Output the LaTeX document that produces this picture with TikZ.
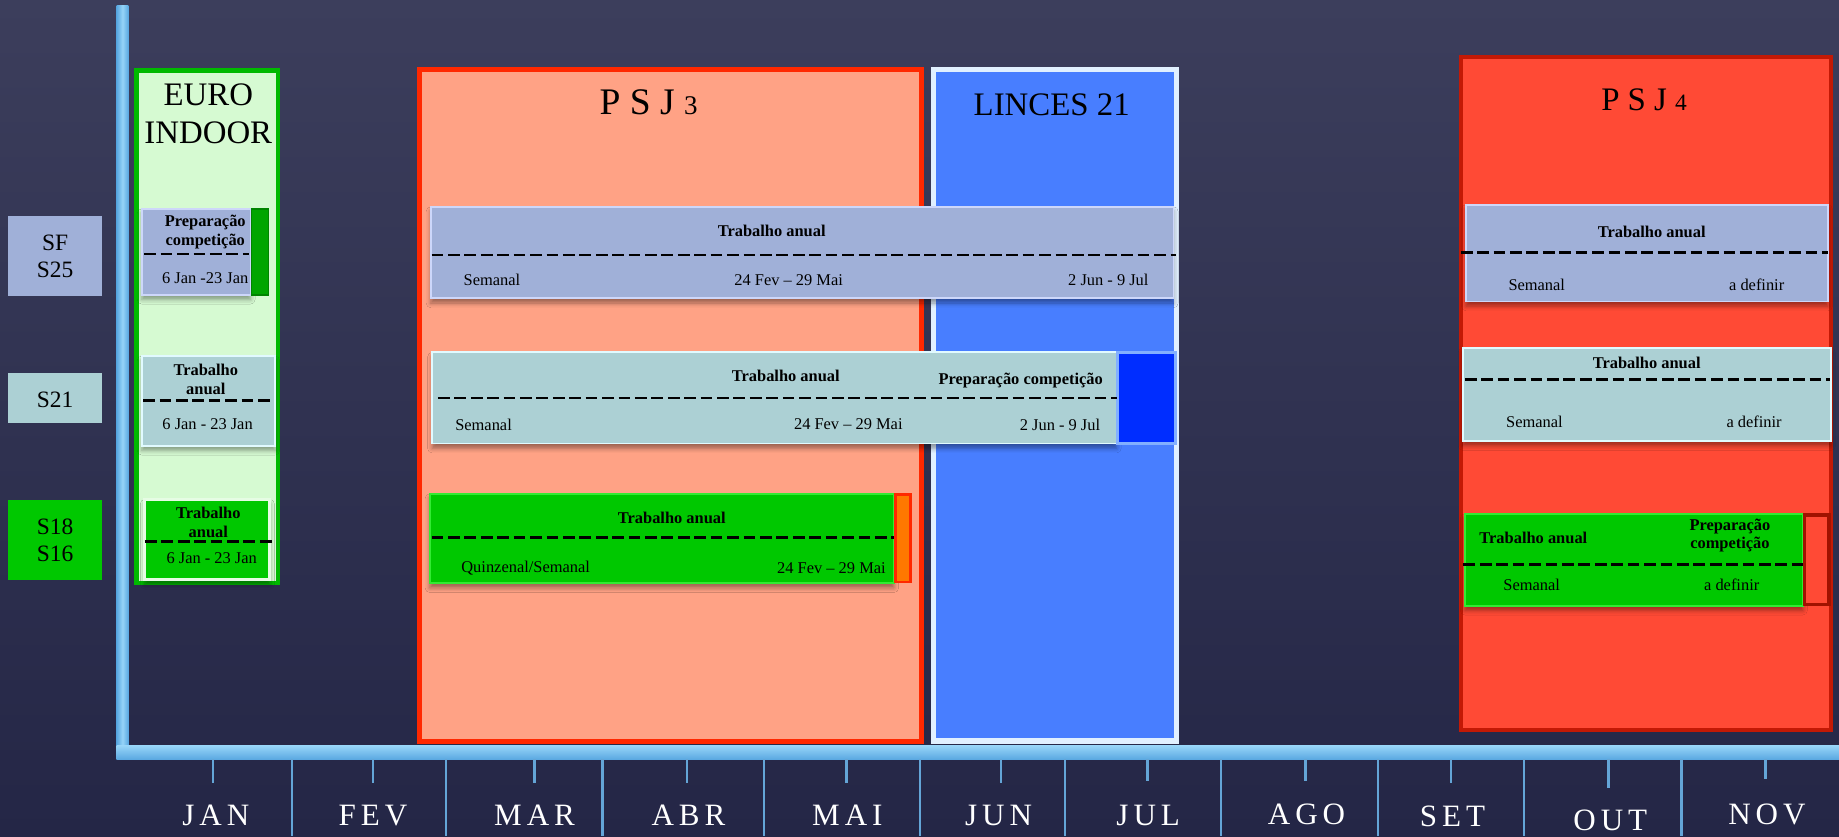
\documentclass[tikz,border=0pt]{standalone}
\usepackage{fontspec}
\setmainfont{Liberation Serif}
\newfontfamily\monthfont[LetterSpace=16]{Liberation Serif}
\usetikzlibrary{shadows.blur}
\definecolor{bgtop}{RGB}{60,62,92}
\definecolor{bgbot}{RGB}{36,38,70}
\definecolor{axlight}{RGB}{150,212,248}
\definecolor{axdark}{RGB}{90,168,225}
\definecolor{tickcol}{RGB}{100,165,215}
\definecolor{sfcol}{RGB}{160,176,216}
\definecolor{sfedge}{RGB}{205,215,250}
\definecolor{sxcol}{RGB}{172,208,212}
\definecolor{sxedge}{RGB}{225,250,255}
\definecolor{sgcol}{RGB}{0,200,0}
\definecolor{sgedge}{RGB}{50,235,50}
\definecolor{euroedge}{RGB}{0,185,0}
\definecolor{eurofill}{RGB}{214,250,210}
\definecolor{psjfill}{RGB}{255,162,133}
\definecolor{psjedge}{RGB}{255,40,0}
\definecolor{lincfill}{RGB}{72,126,255}
\definecolor{lincedge}{RGB}{225,240,255}
\definecolor{prepblue}{RGB}{0,45,255}
\definecolor{prepedge}{RGB}{130,175,255}
\definecolor{prepor}{RGB}{255,120,0}
\definecolor{prepgreen}{RGB}{0,165,0}
\definecolor{psjfour}{RGB}{255,74,53}
\definecolor{psjfouredge}{RGB}{195,25,5}
\definecolor{prepred}{RGB}{160,18,0}
\tikzset{
  taskbox/.style={line width=1.5pt, blur shadow={shadow xshift=0pt, shadow yshift=-4pt, shadow blur radius=4pt, shadow opacity=40}},
  sfbar/.style={taskbox, fill=sfcol, draw=sfedge},
  sxbar/.style={taskbox, fill=sxcol, draw=sxedge},
  sgbar/.style={taskbox, fill=sgcol, draw=sgedge},
  sepline/.style={line width=2pt, dash pattern=on 10pt off 4pt},
  smalltxt/.style={inner sep=0pt, align=center, font=\fontsize{14}{16}\selectfont},
  headtxt/.style={smalltxt, font=\fontsize{14}{16}\selectfont\bfseries},
  rowtxt/.style={inner sep=0pt, align=center, font=\fontsize{20}{23}\selectfont},
  titletxt/.style={inner sep=0pt, align=center, font=\fontsize{28}{32}\selectfont},
  monthtxt/.style={inner sep=0pt, text=white, font=\monthfont\fontsize{26.5}{26.5}\selectfont},
  tickline/.style={tickcol, line width=2pt}
}
\begin{document}
\begin{tikzpicture}[x=1pt, y=-1pt]
    \useasboundingbox (0,0) rectangle (1568,713);
    \shade [top color=bgtop, bottom color=bgbot] (0,0) rectangle (1568,713);
    \fill [sfcol] (7,184) rectangle (87,252);
    \fill [sxcol] (7,318) rectangle (87,361);
    \fill [sgcol] (7,426) rectangle (87,494.5);
    \node [rowtxt] (rowsf) at (47,218.5) {SF\\S25};
    \node [rowtxt] (rowsx) at (47,341) {S21};
    \node [rowtxt] (rowsg) at (47,460.5) {S18\\S16};
    \draw [euroedge, line width=4pt, fill=eurofill] (116.5,60) rectangle (237,497);
    \draw [psjedge, line width=4pt, fill=psjfill] (357.5,59) rectangle (785.5,632.3);
    \draw [lincedge, line width=4.5pt, fill=lincfill] (795.8,59.3) rectangle (1003,631.7);
    \draw [psjfouredge, line width=3.5pt, fill=psjfour] (1246,48.3) rectangle (1561.3,622.3);
    \node [titletxt] (euro) at (177.6,97) {EURO\\INDOOR};
    \node [titletxt, font=\fontsize{32}{32}\selectfont] (psj3) at (553,87.5) {P S J {\fontsize{23}{23}\selectfont 3}};
    \node [titletxt] (linces) at (896.7,89) {LINCES 21};
    \node [titletxt] (psj4) at (1401.8,84.7) {P S J {\fontsize{20}{20}\selectfont 4}};
    % euro indoor
    \draw [sfbar] (121,178) rectangle (213.5,251.3);
    \draw [prepgreen!80!black, fill=prepgreen, line width=1.5pt] (214.5,178) rectangle (229,251.3);
    \draw [sepline] (123,216.3) -- (212,216.3);
    \node [headtxt] (eusfh) at (175,198) {Preparação\\competição};
    \node [smalltxt] (eusfd) at (175,237.5) {6 Jan -23 Jan};
    \draw [sxbar] (121,303.5) rectangle (234.5,380);
    \draw [sepline] (122,341.6) -- (233,341.6);
    \node [headtxt] (eusxh) at (175.5,323.7) {Trabalho\\anual};
    \node [smalltxt] (eusxd) at (177,362) {6 Jan - 23 Jan};
    \draw [sgbar, draw=eurofill!60!white, line width=2.5pt] (123.6,425.8) rectangle (230,494.4);
    \draw [sepline] (123.6,461.7) -- (234.5,461.7);
    \node [headtxt] (eusgh) at (177.6,445.3) {Trabalho\\anual};
    \node [smalltxt] (eusgd) at (180.5,475.8) {6 Jan - 23 Jan};
    % psj 3 and linces
    \draw [sfbar] (367.4,176.3) rectangle (1000.5,254.4);
    \draw [sepline] (368,217.6) -- (1003,217.6);
    \node [headtxt] (p3sfh) at (658,196.6) {Trabalho anual};
    \node [smalltxt] (p3sfa) at (419.5,238.5) {Semanal};
    \node [smalltxt] (p3sfb) at (672.4,238.5) {24 Fev – 29 Mai};
    \node [smalltxt] (p3sfc) at (945,238.5) {2 Jun - 9 Jul};
    \draw [sxbar] (368.6,300.4) rectangle (952,378.2);
    \draw [prepedge, fill=prepblue, line width=2.5pt] (953,300.4) rectangle (1002,378.2);
    \draw [sepline] (373.4,339.6) -- (952,339.6);
    \node [headtxt] (p3sxh) at (670,320.8) {Trabalho anual};
    \node [headtxt] (p3sxp) at (870.3,324.7) {Preparação competição};
    \node [smalltxt] (p3sxa) at (412.3,362) {Semanal};
    \node [smalltxt] (p3sxb) at (723.3,362) {24 Fev – 29 Mai};
    \node [smalltxt] (p3sxc) at (903.8,362) {2 Jun - 9 Jul};
    \draw [sgbar] (366.5,421) rectangle (762.2,497.2);
    \draw [psjedge, fill=prepor, line width=2.5pt] (763.2,422) rectangle (776.7,496.2);
    \draw [sepline] (368,458.3) -- (762,458.3);
    \node [headtxt] (p3sgh) at (572.8,441.3) {Trabalho anual};
    \node [smalltxt] (p3sga) at (448.2,484.7) {Quinzenal/Semanal};
    \node [smalltxt] (p3sgb) at (708.9,484.7) {24 Fev – 29 Mai};
    % psj 4
    \draw [sfbar] (1250,174.5) rectangle (1558.4,257);
    \draw [sepline] (1245.5,215.2) -- (1558.7,215.2);
    \node [headtxt] (p4sfh) at (1408.3,197.3) {Trabalho anual};
    \node [smalltxt] (p4sfa) at (1310.3,243) {Semanal};
    \node [smalltxt] (p4sfb) at (1497.8,243) {a definir};
    \draw [sxbar] (1247.2,296.7) rectangle (1561,376);
    \draw [sepline] (1249,323.6) -- (1560,323.6);
    \node [headtxt] (p4sxh) at (1404,309) {Trabalho anual};
    \node [smalltxt] (p4sxa) at (1308.3,359.4) {Semanal};
    \node [smalltxt] (p4sxb) at (1495.6,359.4) {a definir};
    \draw [sgbar] (1249.1,438) rectangle (1537,516.4);
    \draw [prepred, fill=psjfour, line width=3pt] (1538.5,439) rectangle (1559.5,515.4);
    \draw [sepline] (1247.8,481.2) -- (1537,481.2);
    \node [headtxt] (p4sgh) at (1307.4,458.3) {Trabalho anual};
    \node [headtxt, font=\fontsize{14}{15.7}\selectfont\bfseries] (p4sgp) at (1475,456.4) {Preparação\\competição};
    \node [smalltxt] (p4sga) at (1306,499) {Semanal};
    \node [smalltxt] (p4sgb) at (1476.5,499) {a definir};
    % axis
    \shade [left color=axdark, right color=axdark, middle color=axlight] (99.5,5) rectangle (109.4,647.5);
    \shade [top color=axlight, bottom color=axdark] (99.5,636) rectangle (1568,647.5);
    \foreach \xs in {249.2,380.5,513.6,651.6,784.3,908.3,1041,1174.8,1299.5,1433.7}
        \draw [tickline] (\xs,647.5) -- (\xs,713);
    \foreach \m/\xm/\xl/\yl/\yt in {JAN/181.8/184/695/668, FEV/317.8/318/695/668, MAR/455.8/455.8/695/668, ABR/585.5/587/695/668, MAI/721.6/722.5/695/668, JUN/853.2/851.5/695/668, JUL/978.3/979/695/666, AGO/1113/1114/694/666, SET/1237.1/1238.5/696/668, OUT/1371.4/1373/699.5/672, NOV/1505.2/1506.5/694/664} {
        \draw [tickline] (\xm,647.5) -- (\xm,\yt);
        \node [monthtxt] (m\m) at (\xl,\yl) {\m};
    }
\end{tikzpicture}
\end{document}
